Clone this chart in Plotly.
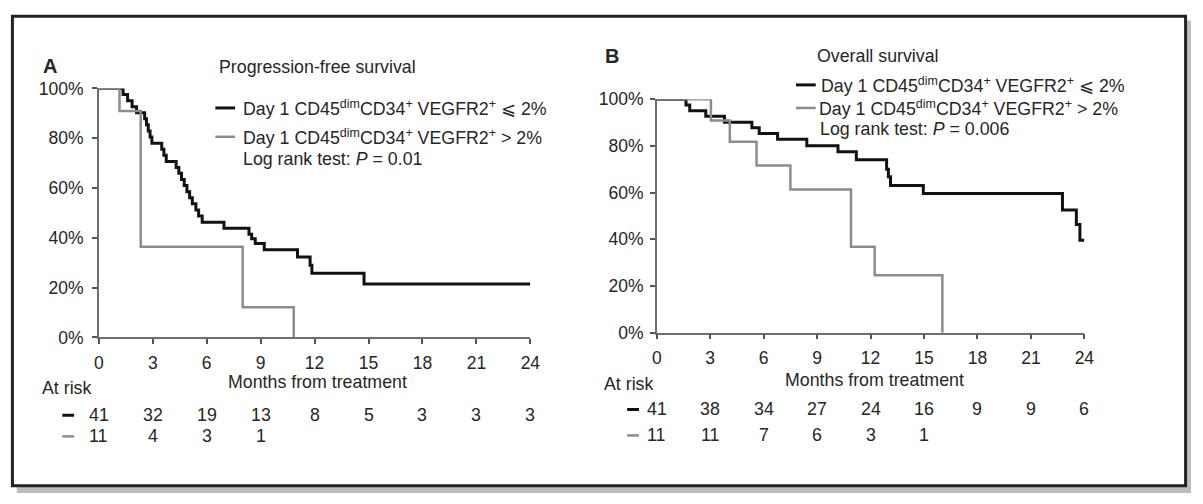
import plotly.graph_objects as go

W, H = 1203, 504
FONT = "Liberation Sans, Arial, Helvetica, sans-serif"
TXT = "#262626"
BLACK = "#111111"
GREY = "#8c8c8c"
FS = 17.8

# ---------------- data ----------------
month_ticks = [0, 3, 6, 9, 12, 15, 18, 21, 24]
pct_ticks = [0, 0.2, 0.4, 0.6, 0.8, 1.0]
pct_labels = ["0%", "20%", "40%", "60%", "80%", "100%"]

# Panel A: progression-free survival
pfs_low_t = [0, 1.35, 1.6, 1.85, 2.1, 2.55, 2.65, 2.75, 2.85, 2.95, 3.5, 3.62, 3.75,
             4.3, 4.45, 4.6, 4.75, 4.9, 5.05, 5.2, 5.4, 5.55, 5.75, 6.96, 8.35, 8.5,
             8.7, 9.2, 11.05, 11.75, 11.85, 14.75, 24]
pfs_low_s = [1.0, .976, .951, .927, .902, .878, .854, .829, .805, .780, .756, .732, .707,
             .683, .659, .634, .610, .585, .561, .537, .512, .488, .463, .439, .415, .396,
             .377, .352, .323, .290, .258, .215, .215]
pfs_high_t = [0, 1.15, 2.33, 8.0, 10.84]
pfs_high_s = [1.0, 0.909, 0.364, 0.121, 0.0]

# Panel B: overall survival
os_low_t = [0, 1.64, 1.85, 2.75, 3.8, 5.34, 5.75, 6.78, 8.42, 10.17, 11.2, 12.9, 13.0,
            13.12, 14.96, 22.77, 23.55, 23.75, 24.0]
os_low_s = [1.0, .976, .951, .927, .902, .878, .854, .829, .801, .775, .741, .700, .668,
            .631, .596, .526, .464, .396, .396]
os_high_t = [0, 3.04, 4.1, 5.6, 7.5, 10.9, 12.23, 16.03]
os_high_s = [1.0, .909, .818, .716, .614, .368, .246, 0.0]

# numbers at risk
risk_months_low = [0, 3, 6, 9, 12, 15, 18, 21, 24]
risk_pfs_low = [41, 32, 19, 13, 8, 5, 3, 3, 3]
risk_months_pfs_high = [0, 3, 6, 9]
risk_pfs_high = [11, 4, 3, 1]
risk_os_low = [41, 38, 34, 27, 24, 16, 9, 9, 6]
risk_months_os_high = [0, 3, 6, 9, 12, 15]
risk_os_high = [11, 11, 7, 6, 3, 1]

legend_low = "Day 1 CD45<sup>dim</sup>CD34<sup>+</sup> VEGFR2<sup>+</sup> \u2a7d 2%"
legend_high = "Day 1 CD45<sup>dim</sup>CD34<sup>+</sup> VEGFR2<sup>+</sup> > 2%"

# ---------------- helpers ----------------
def px(x):
    return x / W


def py(y):
    return 1 - y / H


fig = go.Figure()

for t, s, col, w, xa, ya in [
    (pfs_low_t, pfs_low_s, BLACK, 3, "x", "y"),
    (pfs_high_t, pfs_high_s, GREY, 2.5, "x", "y"),
    (os_low_t, os_low_s, BLACK, 3, "x2", "y2"),
    (os_high_t, os_high_s, GREY, 2.5, "x2", "y2"),
]:
    fig.add_trace(go.Scatter(x=t, y=s, mode="lines", line=dict(color=col, width=w, shape="hv"),
                             xaxis=xa, yaxis=ya, cliponaxis=False, showlegend=False,
                             hoverinfo="skip"))

A_x = (95, 532)
A_y = (81.7, 341)
B_x = (660, 1093)
B_y = (93, 336)

axis_common = dict(showgrid=False, zeroline=False, showline=True, linecolor="#6e6e6e",
                   linewidth=1.5, ticks="outside", ticklen=5, tickwidth=1.5,
                   tickcolor="#555555", tickfont=dict(family=FONT, size=17.5, color=TXT))
inner_common = dict(showgrid=False, zeroline=False, showline=False, ticks="inside",
                    ticklen=4, tickwidth=1.5, tickcolor="#555555", showticklabels=False)

layout = dict(
    width=W, height=H, margin=dict(l=0, r=0, t=0, b=0),
    paper_bgcolor="white", plot_bgcolor="rgba(0,0,0,0)", showlegend=False,
    xaxis=dict(domain=[px(A_x[0]), px(A_x[1])], range=[0, 24], anchor="y",
               tickvals=month_ticks, ticklabelstandoff=4, **axis_common),
    yaxis=dict(domain=[py(A_y[1]), py(A_y[0])], range=[0, 1], anchor="x",
               tickvals=pct_ticks, ticktext=pct_labels, ticklabelstandoff=5, **axis_common),
    xaxis2=dict(domain=[px(B_x[0]), px(B_x[1])], range=[0, 24], anchor="y2",
                tickvals=month_ticks, ticklabelstandoff=4, **axis_common),
    yaxis2=dict(domain=[py(B_y[1]), py(B_y[0])], range=[0, 1], anchor="x2",
                tickvals=pct_ticks, ticktext=pct_labels, ticklabelstandoff=3, **axis_common),
    xaxis3=dict(overlaying="x", anchor="y", range=[0, 24], tickvals=month_ticks, **inner_common),
    yaxis3=dict(overlaying="y", anchor="x", range=[0, 1], tickvals=pct_ticks, **inner_common),
    xaxis4=dict(overlaying="x2", anchor="y2", range=[0, 24], tickvals=month_ticks, **inner_common),
    yaxis4=dict(overlaying="y2", anchor="x2", range=[0, 1], tickvals=pct_ticks, **inner_common),
)
fig.update_layout(**layout)

# frame with drop shadow
shapes = [
    dict(type="rect", xref="paper", yref="paper", x0=px(12), x1=px(1201), y0=py(11), y1=py(503),
         fillcolor="#bdbdbd", line=dict(width=0), layer="below"),
    dict(type="rect", xref="paper", yref="paper", x0=px(7.5), x1=px(1195.5), y0=py(6.5),
         y1=py(495.5), fillcolor="white", line=dict(color="#222222", width=3), layer="below"),
]

annotations = []


def text(x, y, s, size=FS, anchor="left", bold=False, color=TXT, xref="paper"):
    annotations.append(dict(x=x, y=py(y), xref=xref, yref="paper", text=(f"<b>{s}</b>" if bold else s),
                            showarrow=False, xanchor=anchor, yanchor="middle",
                            font=dict(family=FONT, size=size, color=color)))


def key(x0, x1, y, col, w):
    shapes.append(dict(type="line", xref="paper", yref="paper", x0=px(x0), x1=px(x1), y0=py(y),
                       y1=py(y), line=dict(color=col, width=w)))


# Panel A texts
text(px(36), 58, "A", size=20, bold=True)
text(px(215), 59, "Progression-free survival")
key(213, 233, 102, BLACK, 3)
text(px(239), 102, legend_low)
key(213, 233, 132, GREY, 2.5)
text(px(239), 132, legend_high)
text(px(239), 155, "Log rank test: <i>P</i> = 0.01")
text(px(316), 387, "Months from treatment", anchor="center")
text(px(35), 394, "At risk")
key(58, 70, 422, BLACK, 3)
key(58, 70, 444, GREY, 2.5)
for m, n in zip(risk_months_low, risk_pfs_low):
    text(m, 422, str(n), anchor="center", xref="x")
for m, n in zip(risk_months_pfs_high, risk_pfs_high):
    text(m, 444, str(n), anchor="center", xref="x")

# Panel B texts
text(px(606), 48, "B", size=20, bold=True)
text(px(820), 48, "Overall survival")
key(801, 821, 78, BLACK, 3)
text(px(824), 78, legend_low)
key(801, 821, 102, GREY, 2.5)
text(px(822), 102, legend_high)
text(px(823), 124, "Log rank test: <i>P</i> = 0.006")
text(px(880), 385, "Months from treatment", anchor="center")
text(px(605), 389, "At risk")
key(630, 642, 416, BLACK, 3)
key(630, 642, 443, GREY, 2.5)
for m, n in zip(risk_months_low, risk_os_low):
    text(m, 416, str(n), anchor="center", xref="x2")
for m, n in zip(risk_months_os_high, risk_os_high):
    text(m, 443, str(n), anchor="center", xref="x2")

fig.update_layout(shapes=shapes, annotations=annotations)
fig.write_html(
    "out.html",
    config={"displayModeBar": False},
    post_script="document.body.style.margin='0';document.body.style.padding='0';"
                "document.documentElement.style.overflow='hidden';",
)
